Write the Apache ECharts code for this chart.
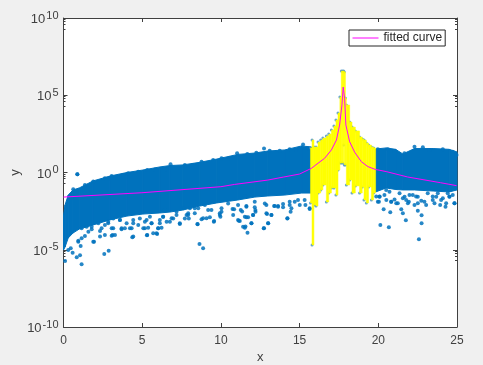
<!DOCTYPE html>
<html>
<head>
<meta charset="utf-8">
<style>
html, body { margin: 0; padding: 0; background: #f0f0f0; }
#chart { width: 483px; height: 365px; }
</style>
<script src="https://cdn.jsdelivr.net/npm/echarts@6/dist/echarts.min.js"></script>
</head>
<body>
<div id="chart"></div>
<script>
// all y values below are read as log10(y)

// dense blue cloud, left of the yellow band
var leftX = [0, 0.1, 0.3, 0.6, 1, 1.87, 2.95, 4.03, 5.04, 6.12, 6.76, 7.58, 8.66, 9.74, 11.07, 12.15, 12.98, 14.05, 15.13, 15.76];
var leftTop = [-2.75, -2.1, -1.46, -1.13, -1.0, -0.55, -0.23, 0, 0.16, 0.36, 0.45, 0.49, 0.66, 0.87, 1.17, 1.26, 1.39, 1.46, 1.72, 1.65];
var leftLow = [-5.02, -4.82, -4.24, -3.92, -3.66, -3.40, -3.07, -2.82, -2.69, -2.62, -2.56, -2.43, -2.17, -1.97, -1.78, -1.59, -1.52, -1.46, -1.33, -1.33];

// dense blue cloud, right of the yellow band
var rightX = [19.83, 20.5, 21.1, 21.56, 22.3, 23.5, 24.5, 25];
var rightTop = [1.52, 1.59, 1.5, 1.2, 1.55, 1.55, 1.5, 1.33];
var rightLow = [-1.26, -1.0, -1.1, -1.13, -1.13, -1.2, -1.26, -1.13];

// yellow columns, each runs from its x to the next one
var yellowX = [15.69, 15.79, 15.91, 16.04, 16.17, 16.34, 16.48, 16.70, 16.85, 17.02, 17.18, 17.31, 17.44, 17.56, 17.65, 17.73, 17.80, 17.84, 17.91, 17.97, 18.18, 18.33, 18.54, 18.81, 18.98, 19.09, 19.24, 19.38, 19.56, 19.70, 19.83];
var yellowTop = [1.59, 2.10, 1.65, 1.65, 1.97, 2.10, 2.23, 2.36, 2.49, 2.75, 3.01, 3.40, 3.85, 4.89, 6.57, 6.57, 6.57, 6.50, 4.82, 4.37, 3.27, 2.94, 2.69, 2.30, 2.17, 2.10, 1.91, 1.78, 1.65, 1.59];
var yellowLow = [-1.97, -4.69, -2.10, -2.17, -1.33, -1.13, -0.81, -1.91, -1.33, -1.0, -1.0, -1.46, 0.16, 0.61, 0.61, 0.61, 1.78, 0.49, 0.49, -0.81, -0.49, -1.33, -0.87, -1.33, -0.94, -1.78, -1.97, -0.94, -1.78, -1.33];

// loose points around the cloud
var speckX = [0.88, 0.10, 1.15, 0.84, 1.05, 0.58, 0.30, 0.46, 0.94, 1.09, 1.36, 1.94, 2.59, 2.87, 3.06, 4.37, 5.30, 5.95, 7.39, 8.64, 8.87, 8.52, 9.55, 9.97, 2.42, 3.16, 3.69, 4.22, 5.17, 6.01, 6.76, 7.92, 9.09, 5.28, 4.43, 3.58, 2.84, 1.79, 6.33, 7.18, 8.34, 9.40, 10.04, 11.09, 8.87, 9.93, 10.74, 6.12, 6.87, 5.60, 6.44, 7.60, 11.69, 11.52, 11.41, 11.14, 11.94, 12.74, 13.0, 14.23, 13.21, 12.93, 12.20, 12.04, 11.62, 11.26, 11.62, 13.63, 13.38, 13.95, 14.43, 15.64, 15.37, 12.15, 12.89, 14.69, 14.37, 20.13, 20.67, 21.75, 22.58, 22.75, 22.75, 22.51, 21.56, 20.76, 20.34, 20.04, 21.46, 23.93, 24.27, 24.84, 23.04, 22.30, 21.14, 21.94, 23.46, 20.51, 20.82, 21.67, 22.51, 23.68, 24.52, 20.08, 22.73, 24.10];
var speckExp = [-0.12, -5.73, -5.94, -5.49, -5.36, -5.19, -5.02, -4.91, -4.41, -4.76, -4.11, -4.48, -5.27, -5.06, -4.09, -4.19, -4.06, -3.98, -3.33, -4.63, -4.91, -3.35, -3.18, -2.86, -3.61, -3.61, -3.68, -3.61, -3.61, -3.61, -3.18, -2.64, -2.96, -3.07, -3.07, -3.07, -3.29, -3.68, -2.86, -2.54, -2.32, -2.43, -2.54, -3.07, -2.96, -2.75, -2.36, -3.07, -2.96, -3.29, -2.43, -2.32, -3.90, -3.57, -3.51, -3.12, -3.29, -3.61, -3.29, -2.96, -2.75, -2.69, -2.54, -2.75, -2.90, -2.43, -2.17, -2.17, -2.17, -2.25, -2.54, -2.36, -2.10, -2.25, -2.10, -1.89, -2.10, -3.40, -3.55, -3.09, -4.32, -3.29, -2.77, -2.47, -2.64, -2.58, -2.38, -1.89, -2.38, -2.10, -2.21, -1.99, -2.10, -2.10, -1.99, -1.89, -1.78, -1.78, -1.89, -1.57, -1.57, -1.57, -1.57, -1.57, -1.83, -1.67];

// more points along the lower edge of the cloud
var edgeX = [0.94, 1.15, 1.15, 1.58, 1.89, 2.32, 2.32, 2.63, 3.06, 3.12, 3.27, 2.63, 3.69, 3.90, 4.33, 4.43, 4.75, 5.07, 5.38, 5.32, 5.70, 5.91, 6.02, 6.23, 5.17, 4.01, 4.43, 5.59, 6.12, 6.55, 6.97, 7.39, 7.71, 4.85, 5.49, 6.33, 7.18, 7.92, 3.59, 3.16, 2.84, 2.21, 1.79, 1.47, 8.51, 7.96, 7.82, 8.34, 8.77, 9.30, 9.57, 9.93, 10.04, 10.78, 10.84, 11.20, 11.35, 11.52, 11.73, 11.56, 11.94, 12.05, 12.19, 12.72, 12.89, 13.21, 13.0, 14.22, 14.48, 13.42, 13.63, 13.95, 12.79, 11.62, 11.09, 10.46, 9.19, 8.56, 8.03, 14.90, 15.32, 15.64, 12.15, 15.01, 11.52, 14.37, 8.98, 20.08, 20.39, 20.71, 21.03, 21.24, 20.82, 21.56, 21.77, 21.98, 22.19, 22.40, 22.51, 22.93, 23.46, 23.57, 23.99, 24.31, 24.73, 24.84, 23.14, 23.78, 24.41, 20.50, 21.35, 24.52, 21.88, 19.97, 19.87];
var edgeExp = [-4.48, -4.26, -3.61, -3.83, -4.48, -4.15, -3.79, -4.04, -3.61, -4.04, -4.04, -3.40, -3.61, -3.61, -3.61, -4.15, -3.40, -3.61, -3.57, -4.04, -3.94, -3.94, -3.61, -3.57, -3.18, -3.29, -3.29, -3.29, -3.29, -3.18, -2.97, -3.29, -2.97, -2.97, -2.86, -2.86, -2.75, -2.75, -3.07, -2.97, -3.18, -3.29, -3.51, -3.51, -3.33, -2.97, -2.75, -2.64, -3.03, -2.90, -3.14, -2.64, -2.32, -2.75, -2.38, -3.14, -2.53, -2.86, -2.90, -3.50, -3.29, -2.75, -2.43, -3.61, -2.64, -2.75, -3.29, -2.97, -2.32, -2.17, -2.21, -2.04, -2.0, -2.21, -2.10, -2.0, -2.43, -2.32, -2.32, -1.78, -1.78, -2.32, -1.89, -2.10, -1.56, -1.89, -2.10, -1.56, -1.46, -1.24, -1.74, -1.99, -1.89, -1.67, -1.78, -1.46, -1.46, -1.56, -1.99, -1.89, -1.56, -1.99, -1.78, -1.99, -1.46, -1.99, -1.35, -1.35, -1.35, -1.13, -1.35, -1.56, -1.99, -1.89, -1.56];

// bumps along the upper edge of the cloud
var bumpX = [0.88, 0.62, 1.36, 1.89, 2.63, 3.06, 3.80, 4.11, 4.75, 5.32, 5.81, 6.44, 6.80, 7.29, 7.71, 8.24, 8.77, 9.51, 10.04, 10.57, 11.03, 11.68, 12.25, 12.74, 13.10, 13.74, 14.37, 14.79, 15.22, 15.58, 19.97, 20.61, 21.03, 21.66, 22.30, 22.83, 23.25, 24.10, 24.73, 24.97];
var bumpExp = [-0.12, -1.09, -0.81, -0.59, -0.38, -0.23, -0.16, -0.05, 0.05, 0.16, 0.20, 0.20, 0.53, 0.33, 0.49, 0.49, 0.70, 0.81, 0.92, 0.92, 1.24, 1.20, 1.28, 1.56, 1.41, 1.41, 1.50, 1.46, 1.82, 1.56, 1.50, 1.50, 1.39, 1.24, 1.67, 1.63, 1.46, 1.50, 1.35, 1.13];

// fitted curve
var fitX = [0, 4.98, 10, 10.88, 12.98, 14, 15, 15.75, 16.17, 16.59, 17.02, 17.34, 17.54, 17.69, 17.77, 17.86, 17.94, 18.18, 18.50, 18.92, 19.34, 19.81, 20.5, 21.86, 23.95, 24.97];
var fitExp = [-1.59, -1.31, -0.92, -0.77, -0.49, -0.29, -0.1, 0.27, 0.60, 0.92, 1.46, 2.10, 3.07, 4.37, 5.53, 4.80, 3.07, 1.99, 1.31, 0.70, 0.38, 0.2, 0.06, -0.29, -0.66, -0.85];

function pow10(e) { return Math.pow(10, e); }

function zipLine(xs, exps) {
	return xs.map(function(x, i) { return [x, pow10(exps[i])]; });
}

// one band slice per neighbouring pair of samples
function bandData(xs, top, low) {
	var out = [];
	for (var i = 0; i < xs.length - 1; i++) {
		out.push([xs[i], pow10(top[i]), pow10(low[i]), xs[i + 1], pow10(top[i + 1]), pow10(low[i + 1])]);
	}
	return out;
}

function columnData(xs, top, low) {
	var out = [];
	for (var i = 0; i < xs.length - 1; i++) {
		out.push([xs[i], pow10(top[i]), pow10(low[i]), xs[i + 1]]);
	}
	return out;
}

function renderBand(params, api) {
	var pts = [
		api.coord([api.value(0), api.value(1)]),
		api.coord([api.value(3), api.value(4)]),
		api.coord([api.value(3), api.value(5)]),
		api.coord([api.value(0), api.value(2)])
	];
	return {
		type: 'polygon',
		shape: { points: pts },
		style: { fill: '#0072BD', stroke: '#0072BD', lineWidth: 1 }
	};
}

function renderColumn(params, api) {
	var a = api.coord([api.value(0), api.value(1)]);
	var b = api.coord([api.value(3), api.value(2)]);
	return {
		type: 'rect',
		shape: { x: a[0], y: a[1], width: b[0] - a[0], height: b[1] - a[1] },
		style: { fill: '#FFFF00', stroke: '#FFFF00', lineWidth: 0.5 }
	};
}

var tipData = zipLine(yellowX.slice(0, -1), yellowTop).concat(zipLine(yellowX.slice(0, -1), yellowLow));
var axisCol = '#404040';

var myChart = echarts.init(document.getElementById('chart'), null, { renderer: 'canvas' });
var option = {
	animation: false,
	backgroundColor: '#f0f0f0',
	grid: { left: 63.5, top: 18, width: 393.5, height: 309, backgroundColor: '#fff', show: true, borderWidth: 0, outerBoundsMode: 'none' },
	legend: {
		data: ['fitted curve'],
		left: 349,
		top: 30,
		padding: [2, 3, 2, 3],
		itemWidth: 26,
		itemGap: 0,
		backgroundColor: '#fff',
		borderColor: '#262626',
		borderWidth: 1,
		borderRadius: 0,
		itemStyle: { opacity: 0 },
		lineStyle: { width: 1, color: '#FF00FF' },
		textStyle: { color: '#262626', fontFamily: 'Liberation Sans', fontSize: 12 }
	},
	xAxis: [{
		type: 'value', min: 0, max: 25, interval: 5,
		name: 'x', nameLocation: 'middle', nameGap: 24, nameMoveOverlap: false,
		nameTextStyle: { color: '#404040', fontFamily: 'Liberation Sans', fontSize: 13 },
		splitLine: { show: false },
		axisLine: { onZero: false, lineStyle: { color: axisCol } },
		axisTick: { inside: true, length: 4, lineStyle: { color: axisCol } },
		axisLabel: { color: '#404040', fontFamily: 'Liberation Sans', fontSize: 12 }
	}, {
		type: 'value', min: 0, max: 25, interval: 5, position: 'top',
		splitLine: { show: false },
		axisLine: { onZero: false, lineStyle: { color: axisCol } },
		axisTick: { inside: true, length: 4, lineStyle: { color: axisCol } },
		axisLabel: { show: false }
	}],
	yAxis: [{
		type: 'log', logBase: 10, min: 1e-10, max: 1e10, interval: 5,
		name: 'y', nameLocation: 'middle', nameGap: 42, nameMoveOverlap: false,
		nameTextStyle: { color: '#404040', fontFamily: 'Liberation Sans', fontSize: 13 },
		splitLine: { show: false },
		minorSplitLine: { show: false },
		axisLine: { onZero: false, lineStyle: { color: axisCol } },
		axisTick: { inside: true, length: 4, lineStyle: { color: axisCol } },
		minorTick: { show: true, splitNumber: 5, length: 2, lineStyle: { color: axisCol } },
		axisLabel: {
			margin: 5,
			formatter: function(v) { return '{b|10}{s|' + Math.round(Math.log10(v)) + '}'; },
			rich: {
				b: { color: '#404040', fontFamily: 'Liberation Sans', fontSize: 13, padding: [3, 0, 0, 0] },
				s: { color: '#404040', fontFamily: 'Liberation Sans', fontSize: 11, padding: [0, 0, 5, 1] }
			}
		}
	}, {
		type: 'log', logBase: 10, min: 1e-10, max: 1e10, interval: 5, position: 'right',
		splitLine: { show: false },
		minorSplitLine: { show: false },
		axisLine: { onZero: false, lineStyle: { color: axisCol } },
		axisTick: { inside: true, length: 4, lineStyle: { color: axisCol } },
		minorTick: { show: true, splitNumber: 5, length: 2, lineStyle: { color: axisCol } },
		axisLabel: { show: false }
	}],
	series: [
		{ name: 'cloud left', type: 'custom', renderItem: renderBand, data: bandData(leftX, leftTop, leftLow), z: 2, silent: true },
		{ name: 'cloud right', type: 'custom', renderItem: renderBand, data: bandData(rightX, rightTop, rightLow), z: 2, silent: true },
		{ name: 'specks', type: 'scatter', symbolSize: 4, data: zipLine(speckX, speckExp), itemStyle: { color: '#0072BD', opacity: 0.85 }, z: 3, silent: true },
		{ name: 'edge specks', type: 'scatter', symbolSize: 4, data: zipLine(edgeX, edgeExp), itemStyle: { color: '#0072BD', opacity: 0.85 }, z: 3, silent: true },
		{ name: 'bumps', type: 'scatter', symbolSize: 4, data: zipLine(bumpX, bumpExp), itemStyle: { color: '#0072BD', opacity: 0.85 }, z: 3, silent: true },
		{ name: 'tips', type: 'scatter', symbolSize: 3, data: tipData, itemStyle: { color: '#3f8fc4' }, z: 3, silent: true },
		{ name: 'yellow', type: 'custom', renderItem: renderColumn, data: columnData(yellowX, yellowTop, yellowLow), z: 4, silent: true },
		{ name: 'fitted curve', type: 'line', data: zipLine(fitX, fitExp), symbol: 'none', smooth: false, lineStyle: { color: '#FF00FF', width: 1 }, itemStyle: { color: '#FF00FF' }, z: 5, silent: true }
	]
};
myChart.setOption(option);
window.onresize = myChart.resize;
</script>
</body>
</html>
